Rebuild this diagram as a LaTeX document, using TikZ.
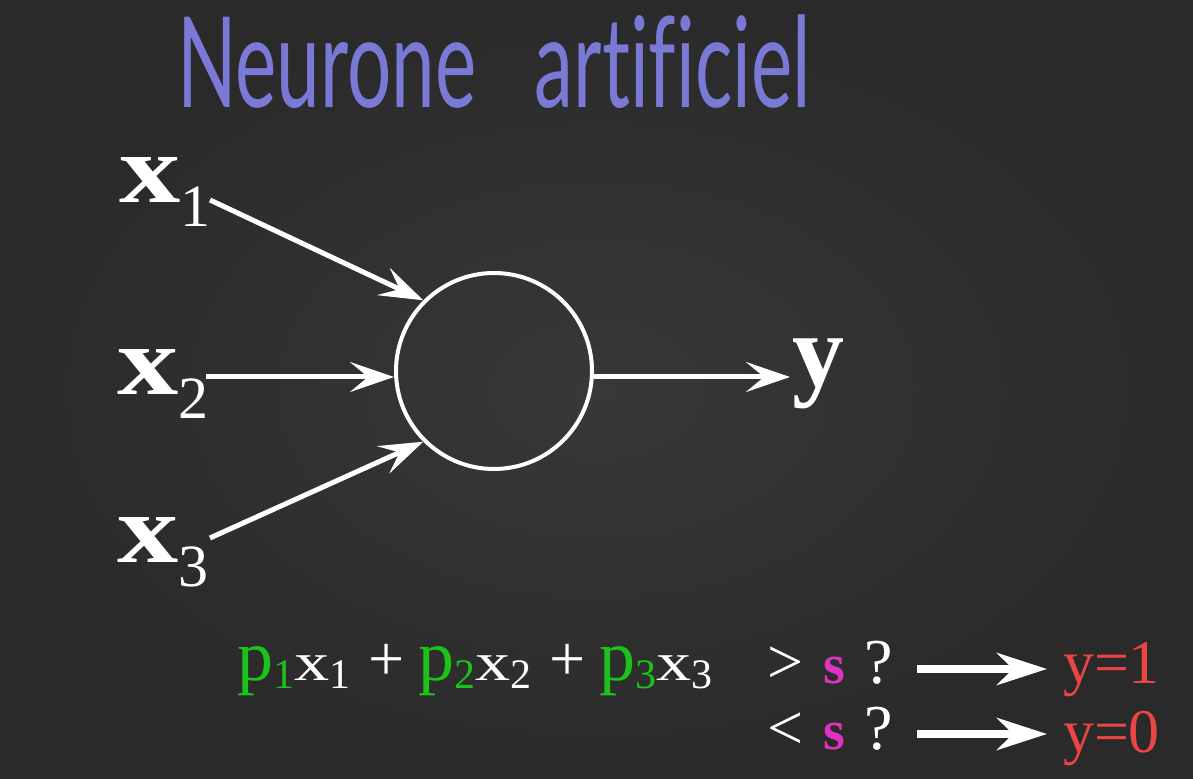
\documentclass[tikz,border=0pt]{standalone}
\usepackage{fontspec}
\usepackage{graphicx}
\setmainfont{Liberation Serif}
\newfontfamily\titlefont[Ligatures=NoCommon]{Lato}
\usetikzlibrary{arrows.meta}
\definecolor{boardin}{HTML}{383838}
\definecolor{boardout}{HTML}{2A2A2A}
\definecolor{titlec}{HTML}{7A7AD6}
\definecolor{pgreen}{HTML}{1BC21B}
\definecolor{smag}{HTML}{E032C0}
\definecolor{yred}{HTML}{EB4545}
\newcommand\bigx[1]{{\fontsize{49}{49}\selectfont\bfseries\scalebox{1.25}[1]{x}}\raisebox{-12pt}{\fontsize{30}{30}\selectfont #1}}
\newcommand\pp[1]{\textcolor{pgreen}{\fontsize{36}{36}\selectfont p\raisebox{-4pt}{\fontsize{21}{21}\selectfont #1}}}
\newcommand\xx[1]{{\fontsize{27}{27}\selectfont\scalebox{1.3}[1]{x}}\raisebox{-4.5pt}{\fontsize{21}{21}\selectfont #1}}
\newcommand\plusop{\hspace{9pt}{\fontsize{32}{32}\selectfont +}\hspace{7pt}}
\begin{document}
\begin{tikzpicture}[x=0.5pt,y=-0.5pt,
  lbl/.style={anchor=base west,inner sep=0pt,outer sep=0pt,text=white},
  inarrow/.style={draw=white,line width=2.5pt,-{Stealth[length=22pt,width=15pt,inset=9pt]}},
  testarrow/.style={draw=white,line width=4pt,-{Stealth[length=25pt,width=16pt,inset=8pt]}},
  neuron/.style={circle,draw=white,line width=2pt,minimum size=98pt,inner sep=0pt,outer sep=1pt}]
\shade[inner color=boardin,outer color=boardout] (0,0) rectangle (1193,779);
\useasboundingbox (0,0) rectangle (1193,779);
% title
\node[lbl,text=titlec] (title) at (177,108) {\scalebox{0.62}[1]{\titlefont\fontsize{63}{63}\selectfont Neurone\hspace{0.75em}artificiel}};
% inputs
\node[lbl] (x1) at (119,203) {\bigx{1}};
\node[lbl] (x2) at (117,395) {\bigx{2}};
\node[lbl] (x3) at (117,563) {\bigx{3}};
\coordinate (s1) at (210,200);
\coordinate (s2) at (206,377);
\coordinate (s3) at (210,538);
% neuron
\node[neuron] (c) at (494,371) {};
\draw[inarrow] (s1) -- (c.135);
\draw[inarrow] (s2) -- (s2 -| c.west);
\draw[inarrow] (s3) -- (c.225);
% output
\node[lbl] (y) at (792,387) {\fontsize{52}{52}\selectfont\bfseries y};
\coordinate (o) at (790,377);
\draw[inarrow] (s2 -| c.east) -- (o);
% formula
\node[lbl] (f) at (237,680) {\pp{1}\xx{1}\plusop\pp{2}\xx{2}\plusop\pp{3}\xx{3}};
\node[lbl] (g1) at (767,683) {\fontsize{32}{32}\selectfont >\hspace{10pt}\textcolor{smag}{\bfseries\fontsize{28}{28}\selectfont s}\hspace{10pt}?};
\node[lbl] (g2) at (767,749) {\fontsize{32}{32}\selectfont <\hspace{10pt}\textcolor{smag}{\bfseries\fontsize{28}{28}\selectfont s}\hspace{10pt}?};
\coordinate (a1s) at (917,669);
\coordinate (a1e) at (1047,669);
\coordinate (a2s) at (917,734);
\coordinate (a2e) at (1047,734);
\node[lbl,text=yred] (r1) at (1063,683) {\fontsize{31}{31}\selectfont y=1};
\node[lbl,text=yred] (r0) at (1063,752) {\fontsize{31}{31}\selectfont y=0};
\draw[testarrow] (a1s) -- (a1e);
\draw[testarrow] (a2s) -- (a2e);
\end{tikzpicture}
\end{document}
